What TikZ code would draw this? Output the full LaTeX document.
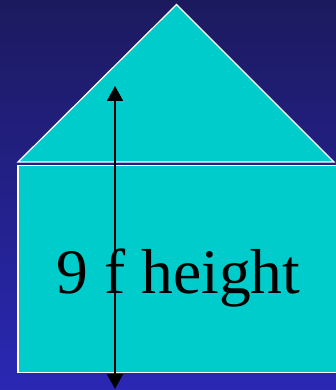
\documentclass[tikz,border=0pt]{standalone}
\usepackage{fontspec}
\setmainfont{Liberation Serif}
\usetikzlibrary{arrows.meta}
\definecolor{skytop}{HTML}{1C1A5E}
\definecolor{skybot}{HTML}{2A28B4}
\definecolor{wall}{HTML}{00CCCC}
\begin{document}
\begin{tikzpicture}[x=1pt,y=-1pt,
  part/.style={fill=wall,draw=white,line width=1.2pt,line join=miter},
  measure/.style={black,line width=1.8pt,{Triangle[length=15pt,width=16pt]}-{Triangle[length=15pt,width=16pt]}}]

\shade[top color=skytop,bottom color=skybot] (0,0) rectangle (336,390);
\useasboundingbox (0,0) rectangle (336,390);

% roof and wall
\coordinate (apex) at (176.5,4.5);
\coordinate (eaveL) at (18,162);
\coordinate (eaveR) at (334,162);
\draw[part] (eaveL) -- (apex) -- (eaveR) -- cycle;
\draw[part] (340,165.5) -- (18,165.5) -- (18,372.5) -- (340,372.5);

\node[anchor=base,inner sep=0pt,font=\fontsize{63.5}{70}\selectfont] (label) at (178.5,293) {9 f height};

% height arrow
\coordinate (top) at (115,86);
\coordinate (bottom) at (115,389);
\draw[measure] (bottom) -- (top);
\end{tikzpicture}
\end{document}
